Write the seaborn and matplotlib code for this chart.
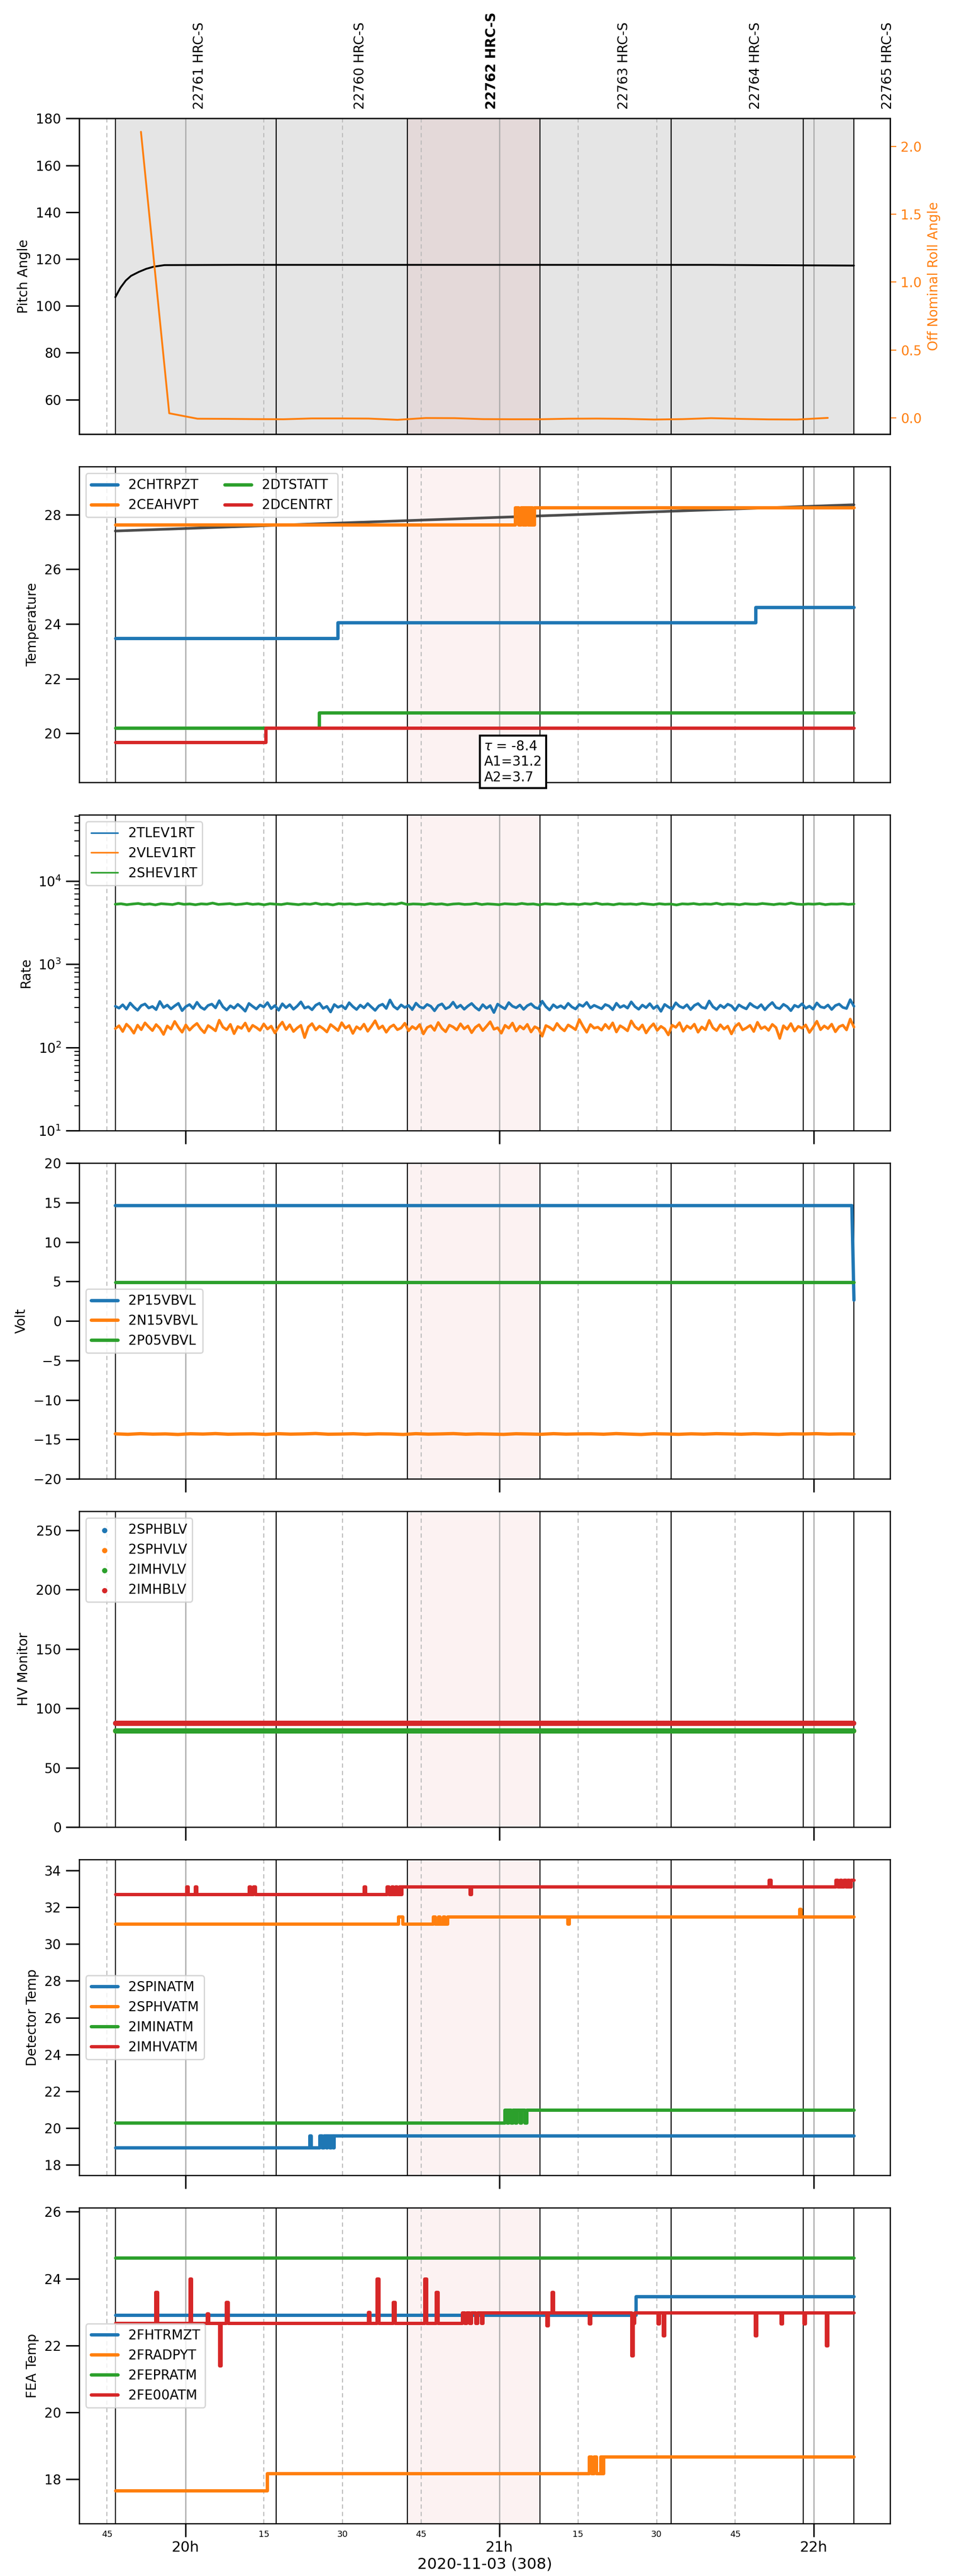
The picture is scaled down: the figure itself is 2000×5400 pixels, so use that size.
import matplotlib
matplotlib.use("Agg")
import numpy as np
import pandas as pd
import matplotlib.pyplot as plt
import matplotlib.dates as mdates
from matplotlib.lines import Line2D
from matplotlib.ticker import MultipleLocator
import seaborn as sns

# times are minutes after 2020-11-03 19:00
DAY = pd.Timestamp("2020-11-03 19:00")

obsids = ["22761", "22760", "22762", "22763", "22764", "22765"]
obs_start = [46.6, 77.3, 102.4, 127.7, 152.8, 178.0]
obs_end = 187.7
focus_obs = "22762"

# pitch / roll
pitch_min = [46.6, 47.6, 48.6, 49.6, 51.1, 52.5, 53.9, 56.0, 70.0, 100.0, 130.0, 160.0, 178.0, 187.7]
pitch_val = [103.7, 107.8, 110.8, 112.8, 114.5, 115.8, 116.7, 117.4, 117.5, 117.5, 117.5, 117.5, 117.3, 117.2]
roll_min = [51.5, 56.9, 62.3, 67.8, 73.2, 78.7, 84.1, 89.6, 95.0, 100.5, 105.9, 111.4, 116.8,
            122.3, 127.7, 133.2, 138.6, 144.1, 149.5, 155.0, 160.4, 165.9, 171.3, 176.8, 182.7]
roll_val = [2.107, 0.034, -0.006, -0.007, -0.009, -0.010, -0.004, -0.004, -0.005, -0.014, -0.001,
            -0.002, -0.009, -0.010, -0.010, -0.006, -0.005, -0.007, -0.012, -0.009, -0.002, -0.007,
            -0.011, -0.012, 0.000]

# temperature panel (minute, value) breakpoints
chtrpzt = [(46.6, 23.48), (89.1, 24.05), (168.9, 24.62), (187.7, 24.62)]
ceahvpt = [(46.6, 27.63), (123.0, 28.25), (123.6, 27.63), (124.1, 28.25), (124.4, 27.63),
           (124.6, 28.25), (124.9, 27.63), (125.1, 28.25), (125.4, 27.63), (125.6, 28.25),
           (125.9, 27.63), (126.1, 28.25), (126.3, 27.63), (126.6, 28.25), (187.7, 28.25)]
dtstatt = [(46.6, 20.20), (85.5, 20.75), (187.7, 20.75)]
dcentrt = [(46.6, 19.68), (75.3, 20.20), (187.7, 20.20)]
fit_min = [46.6, 187.7]
fit_val = [27.40, 28.36]
fit_tau, fit_a1, fit_a2 = -8.4, 31.2, 3.7

# rates (log)
tlev1rt = [312, 296, 325, 288, 341, 305, 279, 318, 332, 297, 310, 284, 356, 301, 322, 290, 315, 338, 276, 309,
           327, 293, 348, 304, 286, 319, 331, 298, 364, 307, 281, 316, 295, 329, 302, 272, 337, 311, 289, 323,
           306, 345, 292, 318, 279, 334, 300, 326, 287, 313, 352, 296, 308, 283, 321, 339, 294, 311, 266, 327,
           303, 317, 290, 344, 309, 285, 322, 298, 336, 305, 278, 315, 330, 293, 371, 310, 288, 324, 301, 319,
           284, 340, 307, 296, 328, 312, 275, 318, 333, 291, 306, 349, 299, 321, 287, 314, 337, 302, 280, 326,
           295, 318, 262, 331, 308, 290, 345, 312, 299, 323, 286, 317, 334, 303, 292, 359, 309, 281, 325, 300,
           316, 294, 338, 306, 289, 327, 311, 347, 298, 320, 305, 291, 327, 314, 283, 339, 302, 318, 296, 352,
           309, 287, 322, 300, 335, 293, 316, 271, 328, 306, 289, 343, 311, 298, 325, 284, 319, 336, 303, 294,
           361, 308, 286, 321, 299, 330, 315, 279, 324, 304, 290, 338, 312, 297, 326, 283, 317, 346, 301, 292,
           329, 309, 276, 320, 305, 334, 295, 313, 288, 342, 307, 299, 323, 285, 318, 331, 302, 293, 374, 311]
vlev1rt = [168, 182, 155, 190, 172, 148, 185, 163, 197, 176, 159, 188, 170, 143, 181, 166, 205, 174, 152, 186,
           161, 179, 194, 167, 150, 183, 171, 158, 212, 175, 163, 189, 146, 178, 169, 196, 157, 184, 173, 160,
           191, 166, 180, 149, 177, 201, 164, 187, 155, 171, 184, 131, 176, 193, 162, 180, 168, 153, 188, 174,
           159, 198, 170, 183, 147, 177, 165, 190, 156, 179, 209, 168, 181, 152, 175, 186, 163, 171, 195, 158,
           178, 166, 188, 145, 173, 182, 160, 199, 169, 154, 185, 176, 162, 192, 167, 181, 150, 174, 187, 159,
           179, 203, 165, 172, 148, 184, 170, 196, 157, 180, 166, 189, 153, 177, 168, 136, 183, 174, 161, 194,
           171, 158, 186, 175, 163, 216, 179, 152, 188, 170, 175, 161, 189, 168, 197, 153, 182, 171, 158, 208,
           177, 164, 186, 149, 173, 192, 160, 179, 167, 141, 185, 174, 198, 156, 181, 169, 190, 152, 176, 163,
           211, 172, 159, 187, 166, 180, 145, 178, 194, 162, 171, 184, 155, 200, 168, 177, 160, 189, 173, 128,
           182, 165, 193, 157, 179, 170, 186, 151, 174, 206, 163, 181, 168, 190, 154, 177, 185, 162, 219, 175]
shev1rt = [5240, 5310, 5180, 5275, 5350, 5205, 5290, 5150, 5320, 5260, 5195, 5380, 5230, 5285, 5170, 5300, 5245, 5410, 5215, 5270,
           5330, 5190, 5255, 5360, 5220, 5295, 5160, 5315, 5250, 5200, 5340, 5265, 5185, 5305, 5235, 5390, 5210, 5280, 5145, 5325,
           5255, 5300, 5195, 5270, 5345, 5225, 5290, 5175, 5310, 5240, 5430, 5205, 5285, 5260, 5190, 5335, 5230, 5300, 5165, 5275,
           5320, 5215, 5250, 5370, 5200, 5295, 5245, 5180, 5315, 5265, 5220, 5355, 5240, 5290, 5155, 5305, 5260, 5210, 5340, 5235,
           5280, 5195, 5325, 5250, 5400, 5225, 5270, 5170, 5310, 5245, 5290, 5205, 5350, 5260, 5185, 5320, 5230, 5275, 5140, 5300,
           5255, 5335, 5215, 5285, 5240, 5380, 5200, 5295, 5265, 5175, 5315, 5250, 5225, 5345, 5270, 5190, 5305, 5235, 5420, 5260,
           5210, 5290, 5245, 5330, 5185, 5275, 5255, 5310, 5220, 5280]

# volts
p15vbvl_min = [46.6, 187.3, 187.7]
p15vbvl_val = [14.62, 14.62, 2.64]
p05vbvl_min = [46.6, 187.7]
p05vbvl_val = [4.90, 4.90]
n15vbvl = [-14.30, -14.36, -14.28, -14.34, -14.31, -14.38, -14.29, -14.33, -14.27, -14.35, -14.32, -14.30,
           -14.37, -14.28, -14.34, -14.31, -14.26, -14.35, -14.33, -14.29, -14.36, -14.30, -14.32, -14.38,
           -14.28, -14.34, -14.31, -14.27, -14.35, -14.30, -14.33, -14.37, -14.29, -14.32, -14.36, -14.28,
           -14.34, -14.31, -14.30, -14.35, -14.27, -14.33, -14.38, -14.29, -14.32, -14.36, -14.30, -14.34,
           -14.28, -14.31, -14.35, -14.29, -14.33, -14.37, -14.30, -14.32, -14.28, -14.34, -14.31, -14.33]

# HV monitors (flat levels)
hv_names = ["2SPHBLV", "2SPHVLV", "2IMHVLV", "2IMHBLV"]
hv_levels = [87.7, 81.2, 81.2, 87.7]

# detector temps
spinatm = [(46.6, 18.92), (83.7, 19.59), (84.0, 18.92), (85.6, 19.59), (86.1, 18.92), (86.4, 19.59),
           (86.9, 18.92), (87.1, 19.59), (87.5, 18.92), (87.8, 19.59), (88.2, 18.92), (88.4, 19.59),
           (187.7, 19.59)]
sphvatm = [(46.6, 31.09), (100.7, 31.49), (101.5, 31.09), (107.3, 31.49), (107.7, 31.09), (108.3, 31.49),
           (108.6, 31.09), (109.2, 31.49), (109.5, 31.09), (110.0, 31.49), (133.0, 31.09), (133.3, 31.49),
           (177.3, 31.90), (177.6, 31.49), (187.7, 31.49)]
iminatm = [(46.6, 20.29), (121.0, 20.98), (121.4, 20.29), (121.7, 20.98), (122.2, 20.29), (122.5, 20.98),
           (123.0, 20.29), (123.3, 20.98), (123.9, 20.29), (124.2, 20.98), (124.8, 20.29), (125.2, 20.98),
           (187.7, 20.98)]
imhvatm = [(46.6, 32.71), (60.2, 33.13), (60.5, 32.71), (61.8, 33.13), (62.1, 32.71), (72.1, 33.13),
           (72.4, 32.71), (73.0, 33.13), (73.3, 32.71), (94.1, 33.13), (94.4, 32.71), (98.5, 33.13),
           (98.8, 32.71), (99.4, 33.13), (99.7, 32.71), (100.1, 33.13), (100.4, 32.71), (100.8, 33.13),
           (101.0, 32.71), (101.3, 33.13), (114.3, 32.71), (114.6, 33.13), (171.5, 33.50), (171.8, 33.13),
           (184.2, 33.50), (184.6, 33.13), (185.0, 33.50), (185.3, 33.13), (185.8, 33.50), (186.1, 33.13),
           (186.5, 33.50), (186.8, 33.13), (187.1, 33.50), (187.7, 33.50)]

# FEA temps
fhtrmzt = [(46.6, 22.91), (146.0, 23.47), (187.7, 23.47)]
fradpyt = [(46.6, 17.66), (75.6, 18.16), (137.1, 18.66), (137.6, 18.16), (138.0, 18.66), (138.5, 18.16),
           (139.3, 18.66), (139.6, 18.16), (139.8, 18.66), (187.7, 18.66)]
fepratm = [(46.6, 24.62), (187.7, 24.62)]
fe00atm = [(46.6, 22.66), (54.3, 23.60), (54.6, 22.66), (60.8, 24.00), (61.1, 22.66), (64.1, 22.95),
           (64.4, 22.66), (66.5, 21.40), (66.8, 22.66), (67.8, 23.30), (68.1, 22.66), (94.9, 23.00),
           (95.2, 22.66), (96.6, 24.00), (96.9, 22.66), (99.7, 23.30), (100.0, 22.66), (105.7, 24.00),
           (106.0, 22.66), (107.9, 23.60), (108.2, 22.66), (112.9, 22.98), (113.3, 22.66), (113.7, 22.98),
           (114.2, 22.66), (114.6, 22.98), (115.4, 22.66), (115.8, 22.98), (116.5, 22.66), (116.8, 22.98),
           (129.0, 22.60), (129.3, 22.98), (130.0, 23.60), (130.3, 22.98), (137.1, 22.65), (137.4, 22.98),
           (145.2, 21.70), (145.5, 22.66), (145.8, 22.98), (150.2, 22.65), (150.5, 22.98), (151.2, 22.30),
           (151.5, 22.98), (168.8, 22.30), (169.1, 22.98), (173.7, 22.65), (174.0, 22.98), (178.1, 22.65),
           (178.4, 22.98), (182.4, 22.00), (182.7, 22.98), (187.7, 22.98)]

C = sns.color_palette("tab10")


def t(m):
    return (DAY + pd.Timedelta(minutes=float(m))).to_pydatetime()


def ts(ms):
    return [t(m) for m in ms]


def line(ax, mins, vals, color, label=None, lw=2.5, steps=False, **kw):
    sns.lineplot(x=ts(mins), y=list(vals), ax=ax, color=color, lw=lw, label=label,
                 estimator=None, sort=False, legend=False,
                 drawstyle="steps-post" if steps else "default", **kw)


def step(ax, pts, color, label):
    mins, vals = zip(*pts)
    line(ax, mins, vals, color, label, steps=True)


def decorate(ax, shade=False):
    if shade:
        ax.axvspan(t(obs_start[0]), t(obs_end), color="gray", alpha=0.2, lw=0, zorder=0)
    k = obsids.index(focus_obs)
    ax.axvspan(t(obs_start[k]), t(obs_start[k + 1]), color=C[3], alpha=0.06, lw=0, zorder=0)
    for m in obs_start + [obs_end]:
        ax.axvline(t(m), color="black", lw=0.8, zorder=1)
    ax.grid(which="major", axis="x", color="#aaaaaa", lw=0.9)
    ax.grid(which="minor", axis="x", color="#bbbbbb", lw=0.8, ls=(0, (4, 3)))
    ax.tick_params(axis="y", which="major", length=10, width=1.1, labelsize=10)


sns.set_style("ticks")
plt.rcParams.update({
    "font.family": ["DejaVu Sans"],
    "axes.edgecolor": "black", "text.color": "black", "axes.labelcolor": "black",
    "xtick.color": "black", "ytick.color": "black",
    "legend.fontsize": 10, "axes.labelsize": 10,
    "axes.linewidth": 0.9,
})

fig, axes = plt.subplots(7, 1, figsize=(10, 27), sharex=True)
fig.subplots_adjust(left=0.083, right=0.933, top=0.954, bottom=0.0204, hspace=0.103)
ax1, ax2, ax3, ax4, ax5, ax6, ax7 = axes

# 1 pitch / roll
decorate(ax1, shade=True)
line(ax1, pitch_min, pitch_val, "black", lw=1.4)
ax1.set_ylim(45.2, 180)
ax1.set_ylabel("Pitch Angle")
ax1r = ax1.twinx()
line(ax1r, roll_min, roll_val, C[1], lw=1.4)
ax1r.set_ylim(-0.12, 2.205)
ax1r.set_yticks([0, 0.5, 1.0, 1.5, 2.0])
ax1r.set_ylabel("Off Nominal Roll Angle", color=C[1])
ax1r.tick_params(axis="y", colors=C[1], labelsize=10, length=4.5)
ax1r.spines["right"].set_color("black")
for name, m in zip(obsids, obs_start):
    ax1.text(mdates.date2num(t(m + 16.1)), 1.03, f"{name} HRC-S", transform=ax1.get_xaxis_transform(),
             rotation=90, ha="center", va="bottom", fontsize=10,
             fontweight="bold" if name == focus_obs else "normal")

# 2 temperature
decorate(ax2)
line(ax2, fit_min, fit_val, "#3a3a3a", lw=2.0, alpha=0.9)
step(ax2, chtrpzt, C[0], "2CHTRPZT")
step(ax2, ceahvpt, C[1], "2CEAHVPT")
step(ax2, dtstatt, C[2], "2DTSTATT")
step(ax2, dcentrt, C[3], "2DCENTRT")
h, l = ax2.get_legend_handles_labels()
ax2.legend(h, l, loc="upper left", ncol=2)
ax2.set_ylim(18.21, 29.75)
ax2.set_ylabel("Temperature")
ax2.text(mdates.date2num(t(117.0)), 0.135,
         f"$\\tau$ = {fit_tau}\nA1={fit_a1}\nA2={fit_a2}", transform=ax2.get_xaxis_transform(),
         ha="left", va="top", fontsize=10, zorder=10,
         bbox=dict(boxstyle="square,pad=0.3", facecolor="white", edgecolor="black", lw=1.5))

# 3 rates
decorate(ax3)
rate_handles = []
for vals, col, name in [(tlev1rt, C[0], "2TLEV1RT"), (vlev1rt, C[1], "2VLEV1RT"), (shev1rt, C[2], "2SHEV1RT")]:
    line(ax3, np.linspace(obs_start[0], obs_end, len(vals)), vals, col, lw=2.0)
    rate_handles.append(Line2D([], [], color=col, lw=1.2, label=name))
ax3.set_yscale("log")
ax3.set_ylim(10, 6.2e4)
ax3.set_ylabel("Rate")
ax3.legend(handles=rate_handles, loc="upper left")
ax3.tick_params(axis="y", which="minor", length=3.5, width=0.8)

# 4 volts
decorate(ax4)
line(ax4, p15vbvl_min, p15vbvl_val, C[0], "2P15VBVL")
line(ax4, np.linspace(obs_start[0], obs_end, len(n15vbvl)), n15vbvl, C[1], "2N15VBVL")
line(ax4, p05vbvl_min, p05vbvl_val, C[2], "2P05VBVL")
ax4.set_ylim(-20, 20)
ax4.yaxis.set_major_locator(MultipleLocator(5))
ax4.set_ylabel("Volt")
ax4.legend(loc="center left")

# 5 HV monitor
decorate(ax5)
hv_times = pd.date_range(t(obs_start[0]), t(obs_end), freq="15s")
for i, (name, lev) in enumerate(zip(hv_names, hv_levels)):
    sns.scatterplot(x=hv_times, y=[lev] * len(hv_times), ax=ax5, color=C[i], s=16,
                    linewidth=0, label=name, legend=False)
ax5.set_ylim(0, 266)
ax5.yaxis.set_major_locator(MultipleLocator(50))
ax5.set_ylabel("HV Monitor")
ax5.legend(loc="upper left")

# 6 detector temp
decorate(ax6)
step(ax6, spinatm, C[0], "2SPINATM")
step(ax6, sphvatm, C[1], "2SPHVATM")
step(ax6, iminatm, C[2], "2IMINATM")
step(ax6, imhvatm, C[3], "2IMHVATM")
ax6.set_ylim(17.43, 34.6)
ax6.yaxis.set_major_locator(MultipleLocator(2))
ax6.set_ylabel("Detector Temp")
ax6.legend(loc="center left")

# 7 FEA temp
decorate(ax7)
step(ax7, fhtrmzt, C[0], "2FHTRMZT")
step(ax7, fradpyt, C[1], "2FRADPYT")
step(ax7, fepratm, C[2], "2FEPRATM")
step(ax7, fe00atm, C[3], "2FE00ATM")
ax7.set_ylim(16.67, 26.12)
ax7.yaxis.set_major_locator(MultipleLocator(2))
ax7.set_ylabel("FEA Temp")
ax7.legend(loc="center left")

# shared time axis
ax7.set_xlim(t(39.7), t(194.6))
ax7.xaxis.set_major_locator(mdates.HourLocator())
ax7.xaxis.set_major_formatter(mdates.DateFormatter("%Hh"))
ax7.xaxis.set_minor_locator(mdates.MinuteLocator(byminute=[15, 30, 45]))
ax7.xaxis.set_minor_formatter(mdates.DateFormatter("%M"))
for ax in axes[:2]:
    ax.tick_params(axis="x", which="both", length=0)
for ax in axes[2:]:
    ax.tick_params(axis="x", which="major", length=10, width=1.1)
    ax.tick_params(axis="x", which="minor", length=0)
ax7.tick_params(axis="x", which="major", labelsize=11, pad=3)
ax7.tick_params(axis="x", which="minor", labelsize=6.5, pad=5)
ax7.set_xlabel("2020-11-03 (308)", fontsize=11.5, labelpad=2)

fig.savefig("out.png", dpi=200)
